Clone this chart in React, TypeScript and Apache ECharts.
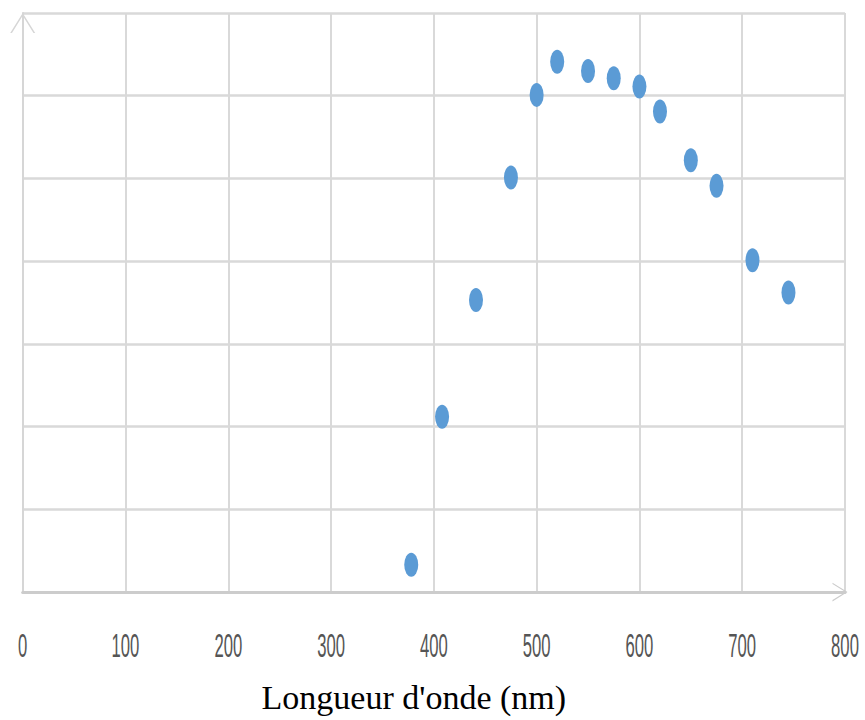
import React, { useEffect, useRef } from "react";
import * as echarts from "echarts";

const wavelengths = [378, 408, 441, 475, 500, 520, 550, 575, 600, 620, 650, 675, 710, 745];
const values = [0.33, 2.12, 3.53, 5.01, 6.01, 6.41, 6.3, 6.21, 6.11, 5.81, 5.22, 4.91, 4.01, 3.62];
const xTicks = [0, 100, 200, 300, 400, 500, 600, 700, 800];
const xTitle = "Longueur d'onde (nm)";

export default function App() {
  const ref = useRef<HTMLDivElement>(null);
  useEffect(() => {
    document.body.style.margin = "0";
    const chart = echarts.init(ref.current!, null, { renderer: "svg" });
    const chevron = "path://M0,16L10,0L20,16L18.6,16L10,2.2L1.4,16Z";
    const ellipse = "path://M0,-1A1,1,0,1,1,0,1A1,1,0,1,1,0,-1Z";
    chart.setOption({
      animation: false,
      backgroundColor: "#ffffff",
      grid: { left: 22.7, top: 13, right: 20, bottom: 128, containLabel: false },
      xAxis: {
        type: "value",
        min: 0,
        max: 800,
        interval: 100,
        name: xTitle,
        nameLocation: "middle",
        nameGap: 88,
        nameTextStyle: {
          fontFamily: "Liberation Serif",
          fontSize: 34,
          color: "#000000",
          padding: [0, 40, 0, 0],
        },
        axisLine: {
          show: true,
          symbol: ["none", chevron],
          symbolSize: [30, 15],
          symbolOffset: [0, -5],
          lineStyle: { color: "#cccccc", width: 3 },
        },
        axisTick: { show: false },
        axisLabel: { show: false },
        splitLine: { show: true, lineStyle: { color: "#d9d9d9", width: 2 } },
      },
      yAxis: {
        type: "value",
        min: 0,
        max: 7,
        interval: 1,
        axisLine: {
          show: true,
          symbol: ["none", chevron],
          symbolSize: [26, 20],
          symbolOffset: [0, -10],
          lineStyle: { color: "#d6d6d6", width: 2 },
        },
        axisTick: { show: false },
        axisLabel: { show: false },
        splitLine: { show: true, lineStyle: { color: "#d9d9d9", width: 2.5 } },
      },
      series: [
        {
          type: "scatter",
          data: wavelengths.map((w, i) => [w, values[i]]),
          symbol: ellipse,
          symbolSize: [14, 24],
          itemStyle: { color: "#5B9BD5", opacity: 1 },
        },
      ],
    });
    const labels = xTicks.map((v) => {
      const p = chart.convertToPixel({ gridIndex: 0 }, [v, 0]) as number[];
      return {
        type: "text",
        x: p[0],
        y: p[1] + 53.5,
        scaleX: 0.49,
        silent: true,
        style: {
          text: String(v),
          fill: "#555555",
          fontSize: 34,
          fontFamily: "Liberation Sans",
          align: "center",
          verticalAlign: "middle",
        },
      };
    });
    chart.setOption({ graphic: labels });
    return () => chart.dispose();
  }, []);
  return <div ref={ref} style={{ width: 865, height: 720 }} />;
}
